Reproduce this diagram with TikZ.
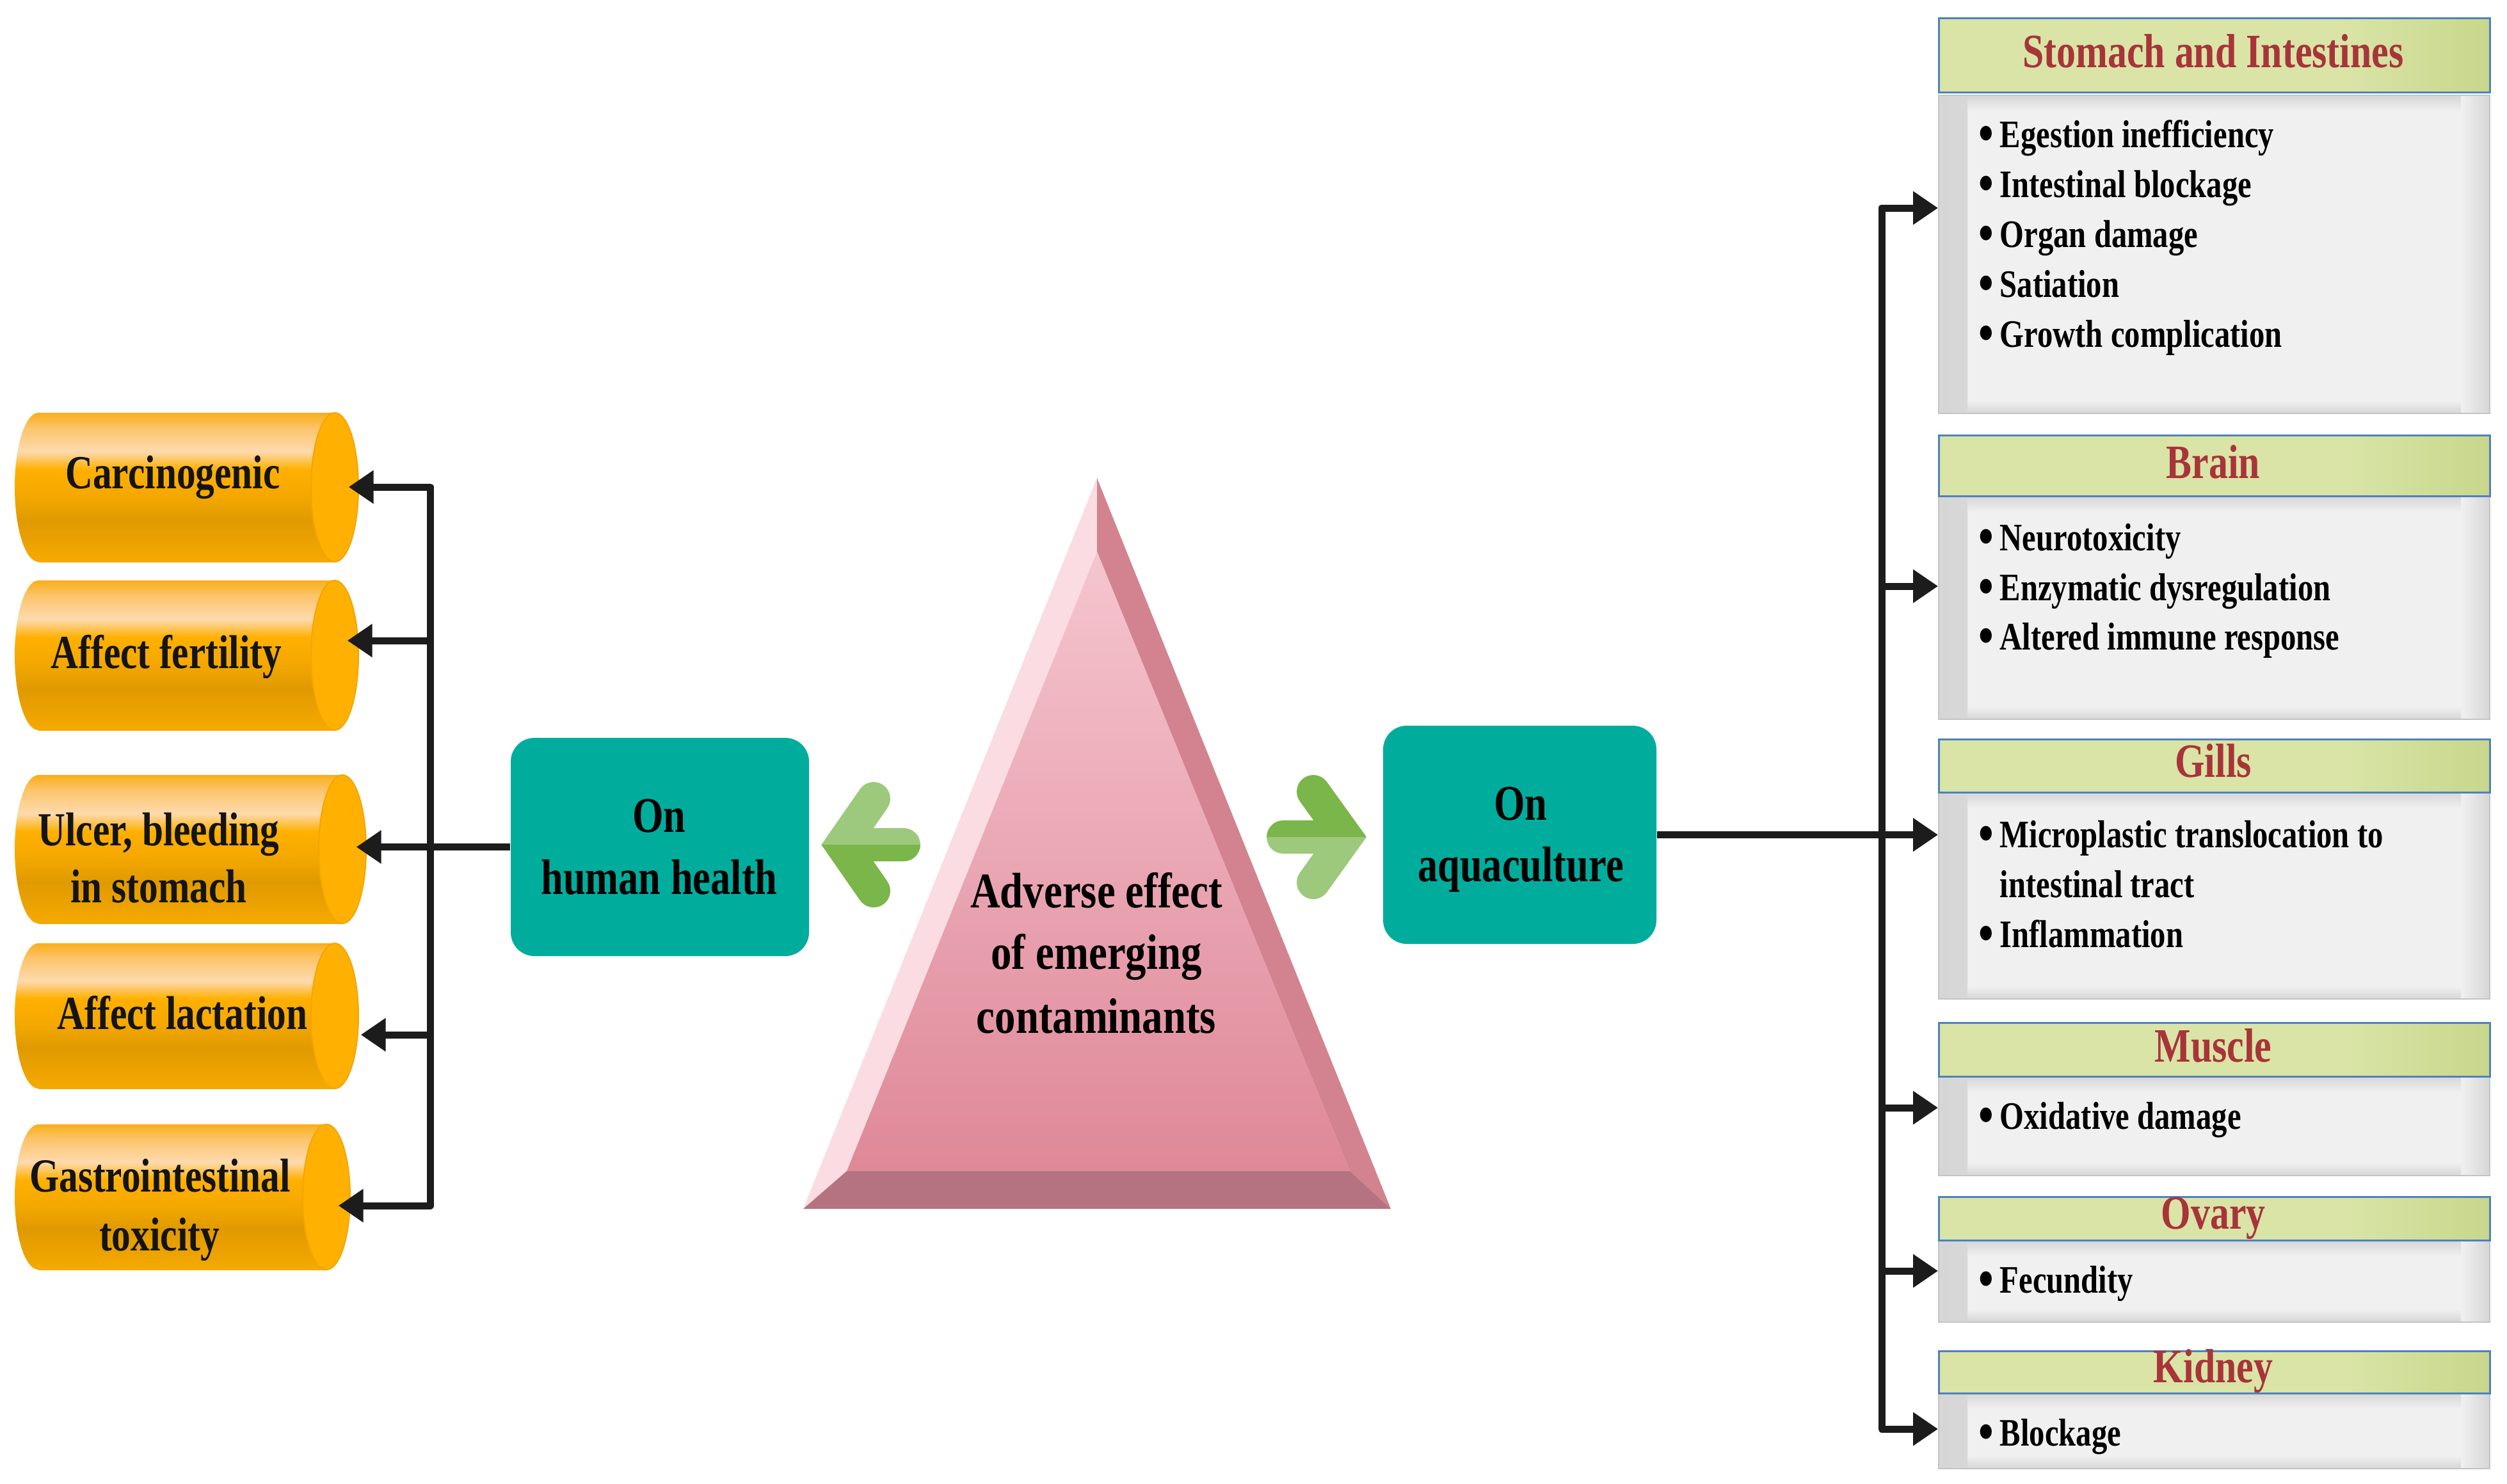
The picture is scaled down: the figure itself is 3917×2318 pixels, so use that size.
\documentclass[tikz,border=0pt]{standalone}
\usepackage{fontspec}
\usetikzlibrary{arrows.meta}
\newfontfamily\tnr[FakeStretch=0.8]{Liberation Serif}
\newfontfamily\tnrw[FakeStretch=0.83]{Liberation Serif}

\definecolor{teal1}{HTML}{00AD9D}
\definecolor{lineblk}{HTML}{1C1C1C}
\definecolor{glight}{HTML}{9CC97B}
\definecolor{gdark}{HTML}{7AB64A}
\definecolor{cylA}{HTML}{F9AE1A}
\definecolor{cylB}{HTML}{FCC46A}
\definecolor{cylC}{HTML}{FDDAAE}
\definecolor{cylD}{HTML}{FFB000}
\definecolor{cylE}{HTML}{F5A800}
\definecolor{cylF}{HTML}{E09A00}
\definecolor{cylG}{HTML}{ECA200}
\definecolor{cylH}{HTML}{F6AA00}
\definecolor{capfill}{HTML}{FFB000}
\definecolor{capedge}{HTML}{F3A600}
\definecolor{triL}{HTML}{FBDCE2}
\definecolor{triR}{HTML}{D38390}
\definecolor{triB}{HTML}{B57280}
\definecolor{triTop}{HTML}{F5C5CF}
\definecolor{triBot}{HTML}{DF8898}
\definecolor{hdrA}{HTML}{D9E4A6}
\definecolor{hdrB}{HTML}{C8D78B}
\definecolor{hdrline}{HTML}{4F81BD}
\definecolor{bodyfill}{HTML}{F0F0F0}
\definecolor{bodyedge}{HTML}{D6D6D6}
\definecolor{bodyline}{HTML}{C4C4C4}
\definecolor{titlered}{HTML}{A8343A}

\pgfdeclareverticalshading{cylshade}{100bp}{color(0bp)=(cylH); color(25bp)=(cylH); color(31bp)=(cylG); color(39bp)=(cylF); color(47.5bp)=(cylE); color(56bp)=(cylD); color(62bp)=(cylC); color(70bp)=(cylB); color(75bp)=(cylA); color(100bp)=(cylA)}
\pgfdeclarehorizontalshading{hdrshade}{100bp}{color(0bp)=(hdrA); color(25bp)=(hdrA); color(62bp)=(hdrA); color(75bp)=(hdrB); color(100bp)=(hdrB)}

% name, x-left, x-right, y-top, y-bottom
\newcommand{\drawcyl}[5]{%
  \pgfmathsetmacro{\cylcy}{(#4+#5)/2}%
  \pgfmathsetmacro{\cylry}{(#5-#4)/2}%
  \pgfmathsetmacro{\cyllx}{#2+37}%
  \pgfmathsetmacro{\cylrx}{#3-37}%
  \pgfmathsetmacro{\cylmx}{(#2+#3)/2}%
  \pgfmathsetmacro{\cylw}{(#3-#2)*0.1}%
  \pgfmathsetmacro{\cylh}{(#5-#4)*0.1}%
  \shade[shading=cylshade] (\cyllx,#4) rectangle (\cylrx,#5);
  \shade[shading=cylshade] (\cyllx,\cylcy) ellipse [x radius=37, y radius=\cylry];
  \filldraw[fill=capfill, draw=capedge, line width=0.2mm] (\cylrx,\cylcy) ellipse [x radius=37, y radius=\cylry];
  \node[inner sep=0, minimum width=\cylw mm, minimum height=\cylh mm] (#1) at (\cylmx,\cylcy) {};
}
\newcommand{\bul}{\llap{\raisebox{-0.6mm}{\fontsize{24}{24}\selectfont\textbullet}\hspace{1.0mm}}}

\begin{document}
\begin{tikzpicture}[x=0.1mm, y=-0.1mm,
  >={Triangle[length=3.9mm,width=5.0mm]},
  conn/.style={draw=lineblk, line width=1.1mm, line join=round},
  tealbox/.style={fill=teal1, draw=none, rounded corners=3.7mm, inner sep=0},
  bodybox/.style={draw=bodyline, line width=0.2mm, fill=bodyfill, inner sep=0, anchor=north west, minimum width=86.1mm,
    path picture={
      \shade[left color=bodyedge, right color=bodyfill] (path picture bounding box.north west) rectangle ([xshift=4.5mm]path picture bounding box.south west);
      \shade[left color=bodyfill, right color=bodyedge] ([xshift=-4.5mm]path picture bounding box.north east) rectangle (path picture bounding box.south east);
      \shade[top color=bodyedge, bottom color=bodyfill] ([xshift=4.5mm]path picture bounding box.north west) rectangle ([xshift=-4.5mm,yshift=-2.5mm]path picture bounding box.north east);
      \shade[top color=bodyfill, bottom color=bodyedge] ([xshift=4.5mm,yshift=2mm]path picture bounding box.south west) rectangle ([xshift=-4.5mm]path picture bounding box.south east);
    }},
  hdr/.style={draw=hdrline, line width=0.25mm, shade, shading=hdrshade, inner sep=0, anchor=north west, minimum width=86.1mm},
  cyltxt/.style={anchor=base, inner sep=0, font=\tnr\bfseries\fontsize{21.1}{25}\selectfont, text=black!92},
  boxtxt/.style={anchor=base, inner sep=0, font=\tnr\bfseries\fontsize{22.2}{26}\selectfont},
  tritxt/.style={anchor=base, inner sep=0, font=\tnrw\bfseries\fontsize{22.2}{26}\selectfont},
  ttl/.style={anchor=base, inner sep=0, font=\tnr\bfseries\fontsize{21.3}{25}\selectfont, text=titlered},
  bl/.style={anchor=base west, inner sep=0, font=\tnr\bfseries\fontsize{17.3}{20}\selectfont}
]
\useasboundingbox (0,0) rectangle (3917,2318);
\fill[white] (0,0) rectangle (3917,2318);

% ---------- central triangle ----------
\fill[triL] (1714,747) -- (1255,1889) -- (1323,1830) -- (1714,862) -- cycle;
\fill[triR] (1714,747) -- (2173,1889) -- (2109,1830) -- (1714,862) -- cycle;
\fill[triB] (1255,1889) -- (2173,1889) -- (2109,1830) -- (1323,1830) -- cycle;
\shade[top color=triTop, bottom color=triBot] (1714,862) -- (2109,1830) -- (1323,1830) -- cycle;
\node[inner sep=0, minimum width=91.8mm, minimum height=114.2mm] (tri) at (1714,1318) {};

% ---------- green arrows ----------
\begin{scope}
  \clip (1240,1150) rectangle (1470,1320);
  \draw[glight, line width=5.2mm, line cap=round, line join=miter] (1365,1248) -- (1315,1320) -- (1365,1392);
  \draw[glight, line width=5.2mm, line cap=round] (1341,1320) -- (1412,1320);
\end{scope}
\begin{scope}
  \clip (1240,1320) rectangle (1470,1460);
  \draw[gdark, line width=5.2mm, line cap=round, line join=miter] (1365,1248) -- (1315,1320) -- (1365,1392);
  \draw[gdark, line width=5.2mm, line cap=round] (1341,1320) -- (1412,1320);
\end{scope}
\begin{scope}
  \clip (1960,1150) rectangle (2160,1308);
  \draw[gdark, line width=5.2mm, line cap=round, line join=miter] (2052,1237) -- (2103,1308) -- (2052,1379);
  \draw[gdark, line width=5.2mm, line cap=round] (2078,1308) -- (2005,1308);
\end{scope}
\begin{scope}
  \clip (1960,1308) rectangle (2160,1460);
  \draw[glight, line width=5.2mm, line cap=round, line join=miter] (2052,1237) -- (2103,1308) -- (2052,1379);
  \draw[glight, line width=5.2mm, line cap=round] (2078,1308) -- (2005,1308);
\end{scope}

% ---------- teal boxes ----------
\node[tealbox, minimum width=46.6mm, minimum height=34.1mm] (hh) at (1031,1323.5) {};
\node[tealbox, minimum width=42.7mm, minimum height=34.1mm] (aq) at (2374.5,1304.5) {};

% ---------- cylinders ----------
\drawcyl{c1}{23}{560}{645}{878}
\drawcyl{c2}{23}{560}{907}{1141}
\drawcyl{c3}{23}{572}{1211}{1443}
\drawcyl{c4}{23}{560}{1474}{1701}
\drawcyl{c5}{23}{547}{1757}{1984}

% ---------- right boxes ----------
\node[bodybox, minimum height=49.7mm] (stb) at (3028,148) {};
\node[hdr, minimum height=11.6mm] (sth) at (3028,27) {};
\node[bodybox, minimum height=34.9mm] (brb) at (3028,774) {};
\node[hdr, minimum height=9.5mm] (brh) at (3028,679) {};
\node[bodybox, minimum height=32.3mm] (gib) at (3028,1237) {};
\node[hdr, minimum height=8.3mm] (gih) at (3028,1154) {};
\node[bodybox, minimum height=15.5mm] (mub) at (3028,1681) {};
\node[hdr, minimum height=8.4mm] (muh) at (3028,1597) {};
\node[bodybox, minimum height=12.8mm] (ovb) at (3028,1937) {};
\node[hdr, minimum height=6.8mm] (ovh) at (3028,1869) {};
\node[bodybox, minimum height=11.8mm] (kib) at (3028,2176) {};
\node[hdr, minimum height=6.6mm] (kih) at (3028,2110) {};

% ---------- connectors left ----------
\coordinate (lb1) at (672,761);
\coordinate (lb2) at (672,1001);
\coordinate (lb4) at (672,1617);
\coordinate (lb5) at (672,1884);
\draw[conn, <->, shorten <=-1.6mm, shorten >=-1.9mm] (lb1 -| c1.east) -- (lb1) -- (lb5) -- (lb5 -| c5.east);
\draw[conn, ->, shorten >=-1.8mm] (lb2) -- (lb2 -| c2.east);
\draw[conn, ->, shorten >=-1.6mm] (hh.west) -- (hh.west -| c3.east);
\draw[conn, ->, shorten >=0.3mm] (lb4) -- (lb4 -| c4.east);

% ---------- connectors right ----------
\coordinate (rb1) at (2940,325);
\coordinate (rb2) at (2940,916);
\coordinate (rb4) at (2940,1731);
\coordinate (rb5) at (2940,1986);
\coordinate (rb6) at (2940,2233);
\draw[conn, <->] (rb1 -| stb.west) -- (rb1) -- (rb6) -- (rb6 -| kib.west);
\draw[conn, ->] (rb2) -- (rb2 -| brb.west);
\draw[conn, ->] (aq.east) -- (aq.east -| gib.west);
\draw[conn, ->] (rb4) -- (rb4 -| mub.west);
\draw[conn, ->] (rb5) -- (rb5 -| ovb.west);

% ---------- texts ----------
\node[cyltxt] (t1) at (270,763) {Carcinogenic};
\node[cyltxt] (t2) at (260,1044) {Affect fertility};
\node[cyltxt] (t3a) at (248,1321) {Ulcer, bleeding};
\node[cyltxt] (t3b) at (248,1410) {in stomach};
\node[cyltxt] (t4) at (285,1608) {Affect lactation};
\node[cyltxt] (t5a) at (250,1862) {Gastrointestinal};
\node[cyltxt] (t5b) at (249,1954) {toxicity};

\node[boxtxt] (hh1) at (1030,1300) {On};
\node[boxtxt] (hh2) at (1030,1397) {human health};
\node[boxtxt] (aq1) at (2376,1281) {On};
\node[boxtxt] (aq2) at (2376,1377) {aquaculture};

\node[tritxt] (tr1) at (1713,1418) {Adverse effect};
\node[tritxt] (tr2) at (1713,1514) {of emerging};
\node[tritxt] (tr3) at (1713,1614) {contaminants};

\node[ttl] (stt) at (3458,105) {Stomach and Intestines};
\node[ttl] (brt) at (3458,747) {Brain};
\node[ttl] (git) at (3458,1214) {Gills};
\node[ttl] (mut) at (3458,1659) {Muscle};
\node[ttl] (ovt) at (3458,1920) {Ovary};
\node[ttl] (kit) at (3458,2160) {Kidney};

\node[bl] (s1) at (3124,230) {\bul Egestion inefficiency};
\node[bl] (s2) at (3124,308) {\bul Intestinal blockage};
\node[bl] (s3) at (3124,386) {\bul Organ damage};
\node[bl] (s4) at (3124,464) {\bul Satiation};
\node[bl] (s5) at (3124,542) {\bul Growth complication};
\node[bl] (b1) at (3124,860) {\bul Neurotoxicity};
\node[bl] (b2) at (3124,938) {\bul Enzymatic dysregulation};
\node[bl] (b3) at (3124,1015) {\bul Altered immune response};
\node[bl] (g1) at (3124,1324) {\bul Microplastic translocation to};
\node[bl] (g2) at (3124,1402) {intestinal tract};
\node[bl] (g3) at (3124,1480) {\bul Inflammation};
\node[bl] (m1) at (3124,1764) {\bul Oxidative damage};
\node[bl] (o1) at (3124,2020) {\bul Fecundity};
\node[bl] (k1) at (3124,2259) {\bul Blockage};
\end{tikzpicture}
\end{document}
